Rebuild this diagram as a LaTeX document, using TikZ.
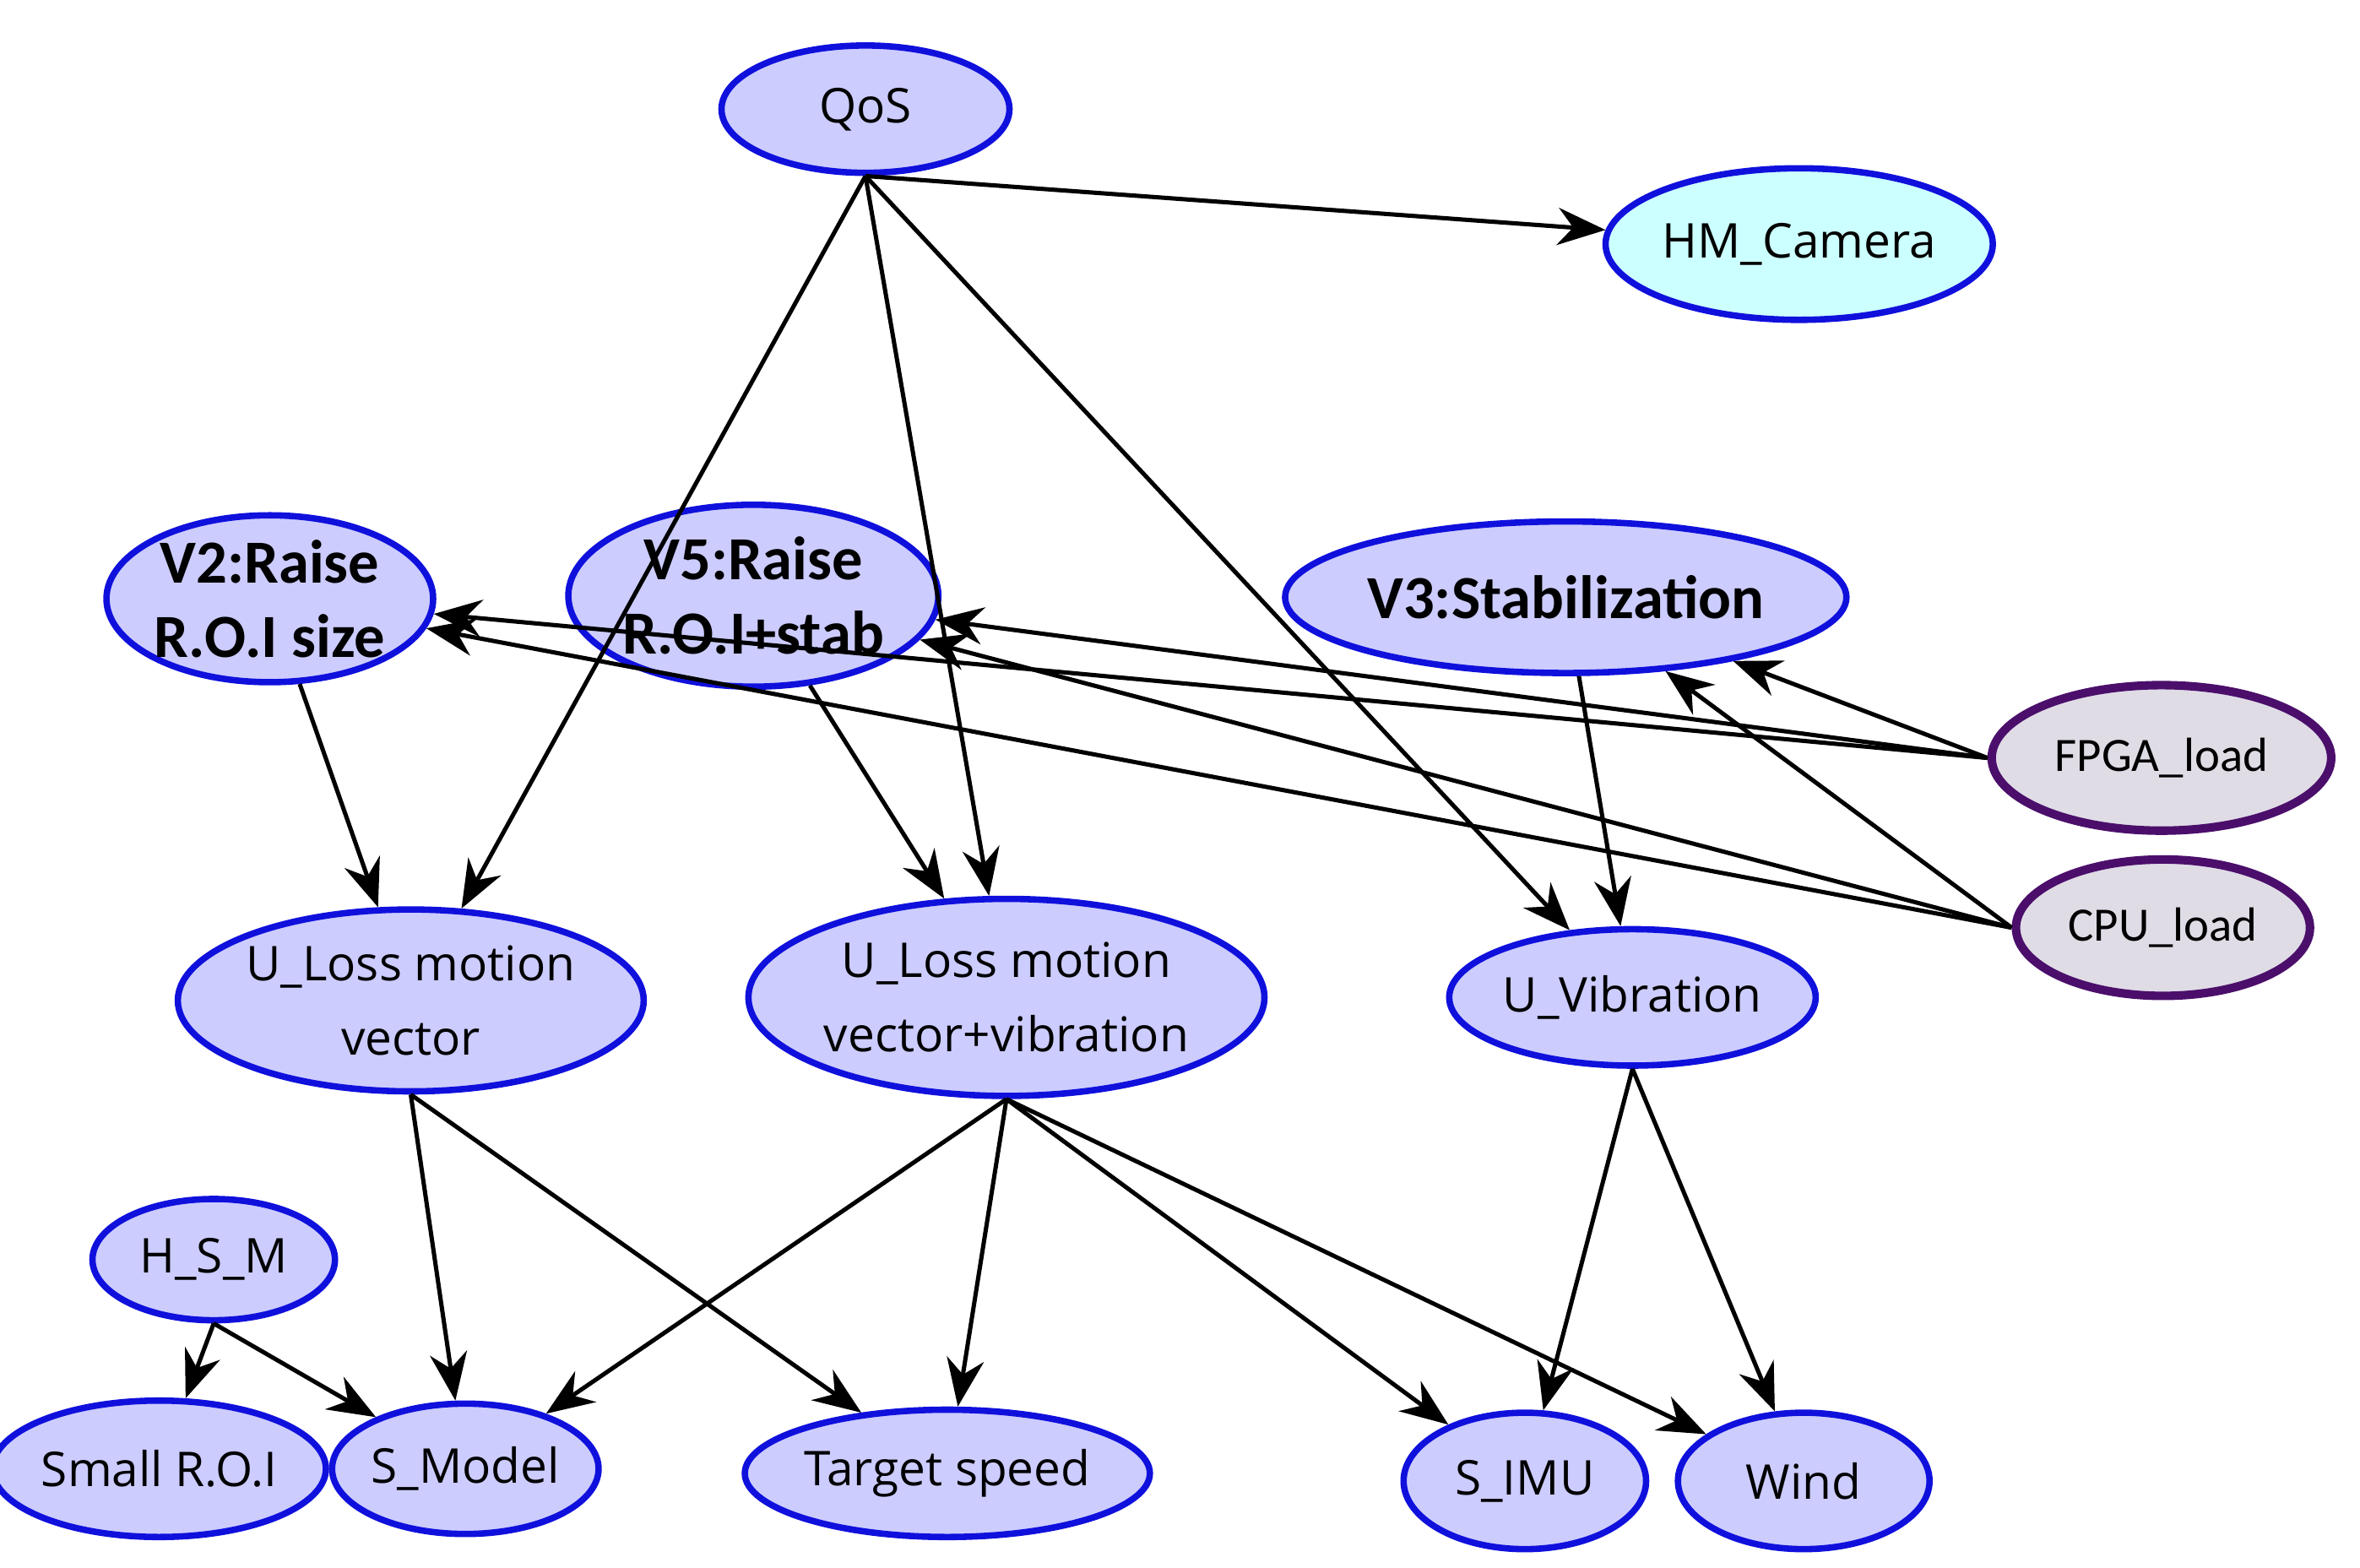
\documentclass[tikz,border=0pt]{standalone}
\usepackage{fontspec}
\setmainfont{Open Sans}
\newfontfamily\bfam{Carlito}
\usetikzlibrary{shapes.geometric,arrows.meta}
\definecolor{nfill}{HTML}{CCCCFF}
\definecolor{nline}{HTML}{1010DD}
\definecolor{pline}{HTML}{4B0F6B}
\definecolor{pfill}{HTML}{E0DCE6}
\definecolor{cfill}{HTML}{CCFFFF}
\begin{document}
\begin{tikzpicture}[x=0.1mm,y=-0.1mm,
  nd/.style={ellipse,draw=nline,fill=nfill,line width=1.2pt,inner sep=0pt,
    font=\fontsize{9}{14}\selectfont,align=center},
  res/.style={ellipse,draw=pline,fill=pfill,line width=1.6pt,inner sep=0pt,
    font=\fontsize{9}{14}\selectfont\bfam},
  bn/.style={font=\fontsize{11.5}{14}\selectfont\bfam\bfseries},
  ar/.style={-{Stealth[length=9pt,width=7pt]},line width=0.8pt}]
\useasboundingbox (0,0) rectangle (1557,1034);
\node[nd,minimum width=19mm,minimum height=8.4mm] (qos) at (571,72) {QoS};
\node[nd,fill=cfill,minimum width=23mm,minimum height=10mm] (hm) at (1187,161) {HM\_Camera};
\node[nd,bn,minimum width=21.4mm,minimum height=11mm] (v2) at (178,395) {V2:Raise\\R.O.I size};
\node[nd,bn,minimum width=22mm,minimum height=12mm] (v5) at (497,393) {V5:Raise\\R.O.I+stab};
\node[nd,bn,minimum width=24mm,minimum height=10mm] (v3) at (1033,394) {V3:Stabilization};
\node[res,minimum width=22.4mm,minimum height=9.6mm] (fpga) at (1426,500) {FPGA\_load};
\node[res,minimum width=19.4mm,minimum height=9mm] (cpu) at (1427,612) {CPU\_load};
\node[nd,minimum width=26.4mm,minimum height=12mm] (ulm) at (271,660) {U\_Loss motion\\vector};
\node[nd,minimum width=28.2mm,minimum height=13mm] (ulv) at (664,658) {U\_Loss motion\\vector+vibration};
\node[nd,minimum width=23mm,minimum height=9mm] (uvib) at (1077,658) {U\_Vibration};
\node[nd,minimum width=16mm,minimum height=8mm] (hsm) at (141,831) {H\_S\_M};
\node[nd,minimum width=19mm,minimum height=9mm] (sroi) at (105,969) {Small R.O.I};
\node[nd,minimum width=16.6mm,minimum height=8.6mm] (smod) at (307,969) {S\_Model};
\node[nd,minimum width=24mm,minimum height=8.4mm] (tsp) at (625,972) {Target speed};
\node[nd,minimum width=16mm,minimum height=9mm] (simu) at (1006,977) {S\_IMU};
\node[nd,minimum width=16.6mm,minimum height=9mm] (wind) at (1190,977) {Wind};
\draw[ar] (qos.south) -- (hm);
\draw[ar] (qos.south) -- (ulm);
\draw[ar] (qos.south) -- (ulv);
\draw[ar] (qos.south) -- (uvib);
\draw[ar] (v2) -- (ulm);
\draw[ar] (v5) -- (ulv);
\draw[ar] (v3) -- (uvib);
\draw[ar] (fpga.west) -- (v2);
\draw[ar] (fpga.west) -- (v5);
\draw[ar] (fpga.west) -- (v3);
\draw[ar] (cpu.west) -- (v2);
\draw[ar] (cpu.west) -- (v5);
\draw[ar] (cpu.west) -- (v3);
\draw[ar] (ulm.south) -- (smod);
\draw[ar] (ulm.south) -- (tsp);
\draw[ar] (ulv.south) -- (smod);
\draw[ar] (ulv.south) -- (tsp);
\draw[ar] (ulv.south) -- (simu);
\draw[ar] (ulv.south) -- (wind);
\draw[ar] (uvib.south) -- (simu);
\draw[ar] (uvib.south) -- (wind);
\draw[ar] (hsm.south) -- (sroi);
\draw[ar] (hsm.south) -- (smod);
\end{tikzpicture}
\end{document}
